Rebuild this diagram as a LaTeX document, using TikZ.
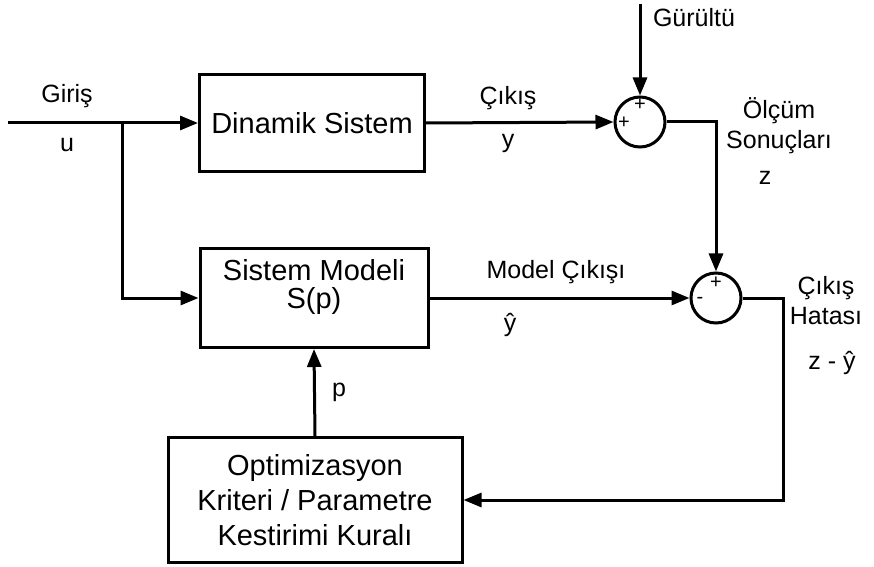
\documentclass[tikz,border=0pt]{standalone}
\usepackage{fontspec}
\setmainfont{Liberation Sans}
\usetikzlibrary{arrows.meta}

\begin{document}
\begin{tikzpicture}[
	x=0.5pt, y=-0.5pt,
	line width=1.5pt,
	>={Triangle[length=9pt,width=7pt]},
	every node/.style={font=\fontsize{12.5}{15}\selectfont},
	block/.style={draw, align=center, inner sep=0pt, font=\fontsize{14.5}{17.4}\selectfont},
	summer/.style={draw, circle, minimum size=25pt, inner sep=0pt},
	sign/.style={font=\fontsize{10}{10}\selectfont, inner sep=0pt}
	]
	\useasboundingbox (0,0) rectangle (874,567);

	% blocks
	\node[block, minimum width=112.5pt, minimum height=48.5pt] (dyn) at (312,123) {Dinamik Sistem};
	\node[block, minimum width=114pt, minimum height=49.5pt] (model) at (314,298) {};
	\node[block, draw=none] (modeltxt) at (314,287) {Sistem Modeli\\[-3pt]S(p)};
	\node[block, minimum width=147pt, minimum height=62.5pt] (opt) at (315,500)
		{Optimizasyon\\Kriteri / Parametre\\Kestirimi Kuralı};

	% summing points
	\node[summer] (s1) at (640,122) {};
	\node[summer] (s2) at (716,298) {};
	\node[sign] at (640,105) {+};
	\node[sign] at (624,123) {+};
	\node[sign] at (716,283) {+};
	\node[sign] at (700,300) {-};

	% free ends
	\coordinate (in) at (8,123);
	\coordinate (branch) at (122,123);
	\coordinate (noise) at (640,4);
	\coordinate (err) at (783,298);

	% connectors
	\draw[->] (in) -- (dyn.west);
	\draw[->] (branch) |- (model.west);
	\draw[->] (dyn.east) -- (s1.west);
	\draw[->] (noise) -- (s1.north);
	\draw[->] (s1.east) -| (s2.north);
	\draw[->] (model.east) -- (s2.west);
	\draw[->] (s2.east) -- (err) |- (opt.east);
	\draw[->] (opt.north) -- (model.south);

	% labels
	\node (lgiris) at (67,96) {Giriş};
	\node (lu) at (67,145) {u};
	\node (lcikis) at (508,98) {Çıkış};
	\node (ly) at (508,143) {y};
	\node (lnoise) at (694,18) {Gürültü};
	\node[align=center] (lmeas) at (779,126) {Ölçüm\\Sonuçları};
	\node (lz) at (765,178) {z};
	\node (lmodel) at (556,272) {Model Çıkışı};
	\node (lyhat) at (510,325) {ŷ};
	\node[align=center] (lerr) at (826,301) {Çıkış\\Hatası};
	\node (lzy) at (832,363) {z - ŷ};
	\node (lp) at (339,392) {p};
\end{tikzpicture}
\end{document}
